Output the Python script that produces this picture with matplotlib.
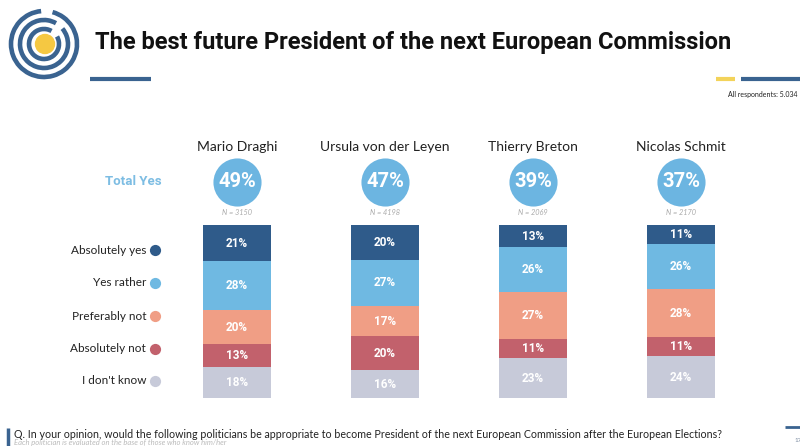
import numpy as np
import matplotlib
matplotlib.use("Agg")
import matplotlib.pyplot as plt
from matplotlib.patches import Arc, Circle
from matplotlib.transforms import blended_transform_factory

# datos
politicians = ["Mario Draghi", "Ursula von der Leyen", "Thierry Breton", "Nicolas Schmit"]
sample_sizes = ["N = 3150", "N = 4198", "N = 2069", "N = 2170"]
answers = ["Absolutely yes", "Yes rather", "Preferably not", "Absolutely not", "I don't know"]
absolutely_yes = [21, 20, 13, 11]
yes_rather = [28, 27, 26, 26]
preferably_not = [20, 17, 27, 28]
absolutely_not = [13, 20, 11, 11]
dont_know = [18, 16, 23, 24]
total_yes = [49, 47, 39, 37]

series = [absolutely_yes, yes_rather, preferably_not, absolutely_not, dont_know]
colors = ["#2f5b8a", "#6fb9e2", "#f09e85", "#c2616c", "#c7cad9"]
blue_dark = "#3a6390"
circle_blue = "#6cb5e1"

fig = plt.figure(figsize=(8, 4.46), dpi=100)

# capa de fondo en pixeles para decoracion
deco = fig.add_axes([0, 0, 1, 1])
deco.set_xlim(0, 800)
deco.set_ylim(446, 0)
deco.axis("off")

# logo (arcos concentricos abiertos abajo)
cx, cy = 44, 44
for r, t1, t2 in [(33, 285, 265 + 360), (24, 320, 300 + 360), (15, 330, 300 + 360)]:
    deco.add_patch(Arc((cx, cy), 2 * r, 2 * r, theta1=t1, theta2=t2,
                       color=blue_dark, lw=3.3))
deco.add_patch(Circle((cx + 1, cy), 9.5, color="#f5c842"))

deco.text(95, 43, "The best future President of the next European Commission",
          fontsize=17, fontweight="bold", family="Roboto", va="center", ha="left",
          color="#111111")
deco.plot([90, 151], [78.5, 78.5], color=blue_dark, lw=3, solid_capstyle="butt")
deco.plot([716, 735], [79, 79], color="#f3d35a", lw=3, solid_capstyle="butt")
deco.plot([741, 800], [79, 79], color=blue_dark, lw=3, solid_capstyle="butt")
deco.text(797, 94, "All respondents: 5.034", fontsize=5, ha="right", va="center",
          family="Lato", color="#222222")

# pie de pagina
deco.plot([8, 8], [428, 446], color=blue_dark, lw=2.5, solid_capstyle="butt")
deco.text(14, 434, "Q. In your opinion, would the following politicians be appropriate to become "
          "President of the next European Commission after the European Elections?",
          fontsize=7.7, family="Lato", va="center", ha="left", color="#222222")
deco.text(14, 442.5, "Each politician is evaluated on the base of those who know him/her",
          fontsize=5.5, family="Lato", style="italic", va="center", ha="left", color="#bbbbbb")
deco.plot([785, 800], [427, 427], color=blue_dark, lw=2, solid_capstyle="butt")
deco.text(794, 440, "17", fontsize=4.5, family="Lato", ha="left", va="center", color="#7a8aa0")

# barras apiladas
ax = fig.add_axes([0, 1 - 398 / 446, 1, 173 / 446])
ax.set_xlim(-237 / 148, (800 - 237) / 148)
ax.set_ylim(100, 0)
ax.axis("off")

x = np.arange(len(politicians))
bottom = np.zeros(len(politicians))
for vals, col in zip(series, colors):
    vals = np.array(vals)
    ax.bar(x, vals, bottom=bottom, width=0.453, color=col, edgecolor="none")
    for xi, b, v in zip(x, bottom, vals):
        ax.text(xi, b + v / 2, f"{v}%", ha="center", va="center", color="white",
                fontsize=8.5, fontweight="bold", family="Roboto")
    bottom += vals

tr = blended_transform_factory(ax.transData, ax.transAxes)
for xi, name, n, ty in zip(x, politicians, sample_sizes, total_yes):
    ax.text(xi, 1.451, name, transform=tr, ha="center", va="center", fontsize=10,
            family="Lato", color="#222222")
    ax.scatter([xi], [1.249], s=1200, color=circle_blue, transform=tr, clip_on=False,
               linewidths=0, zorder=3)
    ax.text(xi, 1.249, f"{ty}%", transform=tr, ha="center", va="center", fontsize=14.5,
            fontweight="bold", family="Roboto", color="white", zorder=4)
    ax.text(xi, 1.075, n, transform=tr, ha="center", va="center", fontsize=5.3,
            family="Lato", style="italic", color="#aaaaaa")

ax.text((133 - 237) / 148, 1.249, "Total Yes", transform=tr, ha="center", va="center",
        fontsize=9.5, fontweight="bold", family="Roboto", color="#7dbde3")

# leyenda a la izquierda
legend_y = [250, 283, 316, 349, 381]
for lab, col, yp in zip(answers, colors, legend_y):
    ya = (398 - yp) / 173
    ax.text((146 - 237) / 148, ya, lab, transform=tr, ha="right", va="center",
            fontsize=8.5, family="Lato", color="#222222")
    ax.scatter([(155 - 237) / 148], [ya], s=65, color=col, transform=tr, clip_on=False,
               linewidths=0)

fig.savefig("out.png", dpi=100)
